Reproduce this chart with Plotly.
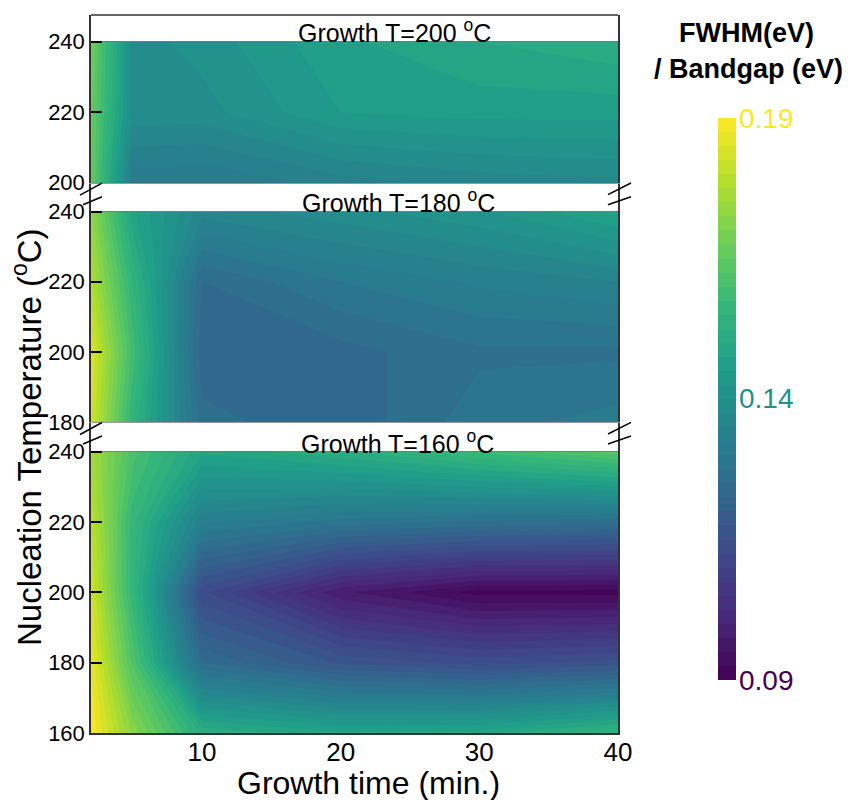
import plotly.graph_objects as go

# ---------------- data ----------------
growth_time = [2, 5, 10, 20, 30, 40]          # min.

nuc_160 = [160, 180, 200, 220, 240]
fwhm_160 = [
    [0.190, 0.172, 0.152, 0.148, 0.149, 0.155],
    [0.187, 0.162, 0.125, 0.117, 0.114, 0.116],
    [0.183, 0.156, 0.113, 0.098, 0.0915, 0.0915],
    [0.180, 0.156, 0.133, 0.129, 0.127, 0.126],
    [0.176, 0.161, 0.148, 0.152, 0.158, 0.164],
]

nuc_180 = [180, 200, 220, 240]
fwhm_180 = [
    [0.183, 0.155, 0.126, 0.123, 0.129, 0.131],
    [0.185, 0.159, 0.123, 0.124, 0.127, 0.127],
    [0.178, 0.155, 0.125, 0.130, 0.133, 0.135],
    [0.173, 0.148, 0.136, 0.139, 0.142, 0.148],
]

nuc_200 = [200, 220, 240]
fwhm_200 = [
    [0.166, 0.131, 0.130, 0.134, 0.136, 0.137],
    [0.166, 0.139, 0.139, 0.145, 0.146, 0.146],
    [0.168, 0.139, 0.141, 0.147, 0.150, 0.152],
]

panel_labels = ["Growth T=160 <sup>o</sup>C", "Growth T=180 <sup>o</sup>C", "Growth T=200 <sup>o</sup>C"]
cbar_ticks = [0.19, 0.14, 0.09]
x_ticks = [10, 20, 30, 40]

# ---------------- layout geometry ----------------
W, H = 856, 800
L, R, T, B = 91, 238, 15, 67
PW, PH = W - L - R, H - T - B
BOT = H - B


def xp(px):
    return (px - L) / PW


def yp(py):
    return (BOT - py) / PH


FONT = "Liberation Sans, Arial, sans-serif"
zmin, zmax = 0.09, 0.19
cb_top, cb_bot = 118, 680

fig = go.Figure()
panels = [
    (fwhm_160, nuc_160, "x", "y", True),
    (fwhm_180, nuc_180, "x2", "y2", False),
    (fwhm_200, nuc_200, "x3", "y3", False),
]
for z, yy, xa, ya, show in panels:
    fig.add_trace(go.Contour(
        x=growth_time, y=yy, z=z, xaxis=xa, yaxis=ya,
        colorscale="Viridis", zmin=zmin, zmax=zmax, zauto=False,
        autocontour=False,
        contours=dict(start=zmin, end=zmax, size=0.0025, coloring="fill", showlines=False),
        line=dict(width=0, smoothing=0),
        showscale=show,
        colorbar=dict(x=xp(718), xanchor="left", xpad=0, ypad=0,
                      y=yp((cb_top + cb_bot) / 2), yanchor="middle",
                      len=cb_bot - cb_top, lenmode="pixels", thickness=18, outlinewidth=0,
                      showticklabels=False, ticks=""),
    ))

# panel pixel boundaries
sep1, sep2 = 182.7, 422.0
domains = {
    "y": [0, yp(sep2)],
    "y2": [yp(sep2), yp(sep1)],
    "y3": [yp(sep1), 1],
}
yranges = {"y": [160, 248.45], "y2": [180, 248.27], "y3": [200, 247.57]}
yticks = {"y": [160, 180, 200, 220, 240], "y2": [180, 200, 220, 240], "y3": [200, 220, 240]}

yax_common = dict(showline=True, mirror=True, linecolor="#333", linewidth=1.5,
                  ticks="inside", ticklen=11, tickwidth=1.5, tickcolor="#000",
                  tickfont=dict(family=FONT, size=22, color="#000"),
                  showgrid=False, zeroline=False, layer="above traces")
xax_common = dict(range=[2, 40], showgrid=False, zeroline=False, ticks="")

fig.update_layout(
    width=W, height=H,
    margin=dict(l=L, r=R, t=T, b=B),
    paper_bgcolor="white", plot_bgcolor="white",
    font=dict(family=FONT, color="#000"),
    showlegend=False,
    xaxis=dict(**xax_common, anchor="y", domain=[0, 1], tickvals=x_ticks,
               tickfont=dict(family=FONT, size=26, color="#000"), ticklabelstandoff=-5,
               showline=True, linecolor="#333", linewidth=1.5),
    xaxis2=dict(**xax_common, anchor="y2", domain=[0, 1], showticklabels=False,
                showline=True, linecolor="#999", linewidth=1),
    xaxis3=dict(**xax_common, anchor="y3", domain=[0, 1], showticklabels=False,
                showline=True, linecolor="#999", linewidth=1),
    yaxis=dict(**yax_common, anchor="x", domain=domains["y"], range=yranges["y"], tickvals=yticks["y"]),
    yaxis2=dict(**yax_common, anchor="x2", domain=domains["y2"], range=yranges["y2"], tickvals=yticks["y2"]),
    yaxis3=dict(**yax_common, anchor="x3", domain=domains["y3"], range=yranges["y3"], tickvals=yticks["y3"]),
)

shapes = [dict(type="line", xref="paper", yref="paper", x0=0, x1=1, y0=1, y1=1,
               line=dict(color="#333", width=1.5))]
for s in (sep1, sep2):
    for (x0, y0, x1, y1) in [(80, s + 12.5, 102, s + 0.5), (83, s + 22, 102, s + 14),
                             (608, s + 12, 631, s + 0.3), (608, s + 22, 631, s + 14)]:
        shapes.append(dict(type="line", xref="paper", yref="paper",
                           x0=xp(x0), y0=yp(y0), x1=xp(x1), y1=yp(y1),
                           line=dict(color="#000", width=1.5)))
fig.update_layout(shapes=shapes)

ann = []
# panel titles
for label, cy, cx in zip(panel_labels, [441.5, 201.5, 31.5], [397, 398, 394]):
    ann.append(dict(text=label, xref="paper", yref="paper", x=xp(cx), y=yp(cy),
                    xanchor="center", yanchor="middle", showarrow=False,
                    font=dict(family=FONT, size=25, color="#000")))
# axis titles
ann.append(dict(text="Growth time (min.)", xref="paper", yref="paper", x=xp(368), y=yp(783),
                xanchor="center", yanchor="middle", showarrow=False,
                font=dict(family=FONT, size=32, color="#000")))
ann.append(dict(text="Nucleation Temperature (<sup>o</sup>C)", xref="paper", yref="paper",
                x=xp(27), y=yp(437), xanchor="center", yanchor="middle", textangle=-90,
                showarrow=False, font=dict(family=FONT, size=33, color="#000")))
# colorbar title
ann.append(dict(text="<b>FWHM(eV)</b>", xref="paper", yref="paper", x=xp(746), y=yp(33),
                xanchor="center", yanchor="middle", showarrow=False,
                font=dict(family=FONT, size=27, color="#000")))
ann.append(dict(text="<b>/ Bandgap (eV)</b>", xref="paper", yref="paper", x=xp(748), y=yp(69),
                xanchor="center", yanchor="middle", showarrow=False,
                font=dict(family=FONT, size=27, color="#000")))
# colorbar tick labels, coloured by their value
vir = {0.19: "#fde725", 0.14: "#21918c", 0.09: "#440154"}
for v in cbar_ticks:
    py = cb_bot - (v - zmin) / (zmax - zmin) * (cb_bot - cb_top)
    ann.append(dict(text=f"{v:.2f}", xref="paper", yref="paper", x=xp(737), y=yp(py),
                    xanchor="left", yanchor="middle", showarrow=False,
                    font=dict(family=FONT, size=28, color=vir[v])))
fig.update_layout(annotations=ann)

fig.write_html("out.html")
